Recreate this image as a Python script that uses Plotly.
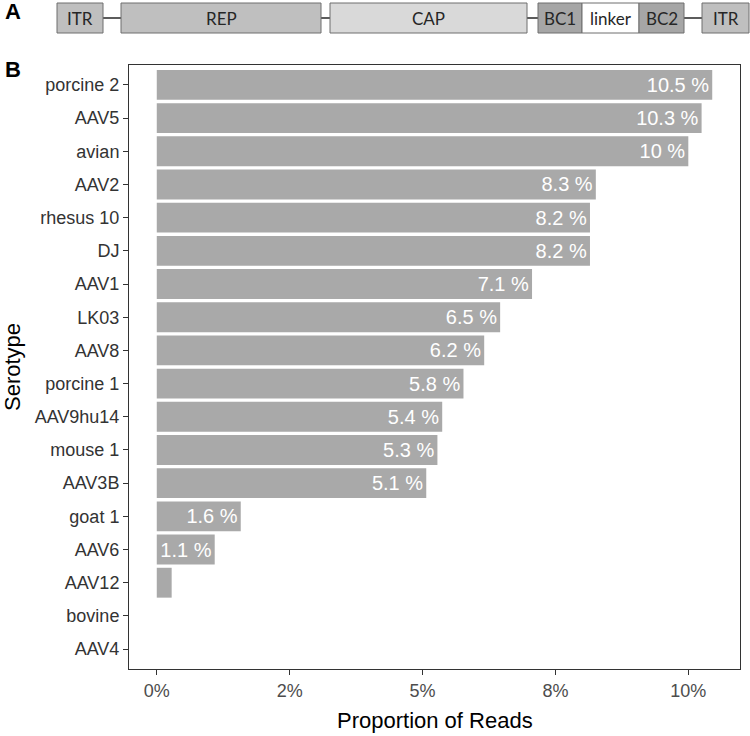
import plotly.graph_objects as go

serotypes = ["porcine 2", "AAV5", "avian", "AAV2", "rhesus 10", "DJ", "AAV1", "LK03",
             "AAV8", "porcine 1", "AAV9hu14", "mouse 1", "AAV3B", "goat 1", "AAV6",
             "AAV12", "bovine", "AAV4"]
proportions = [10.45, 10.25, 10.0, 8.26, 8.15, 8.15, 7.06, 6.46, 6.16, 5.77, 5.37,
               5.28, 5.07, 1.58, 1.09, 0.28, 0.0, 0.0]
bar_labels = ["10.5 %", "10.3 %", "10 %", "8.3 %", "8.2 %", "8.2 %", "7.1 %", "6.5 %",
              "6.2 %", "5.8 %", "5.4 %", "5.3 %", "5.1 %", "1.6 %", "1.1 %", "", "", ""]
tick_vals = [0, 2.5, 5, 7.5, 10]
tick_text = ["0%", "2%", "5%", "8%", "10%"]

# construct diagram (panel A)
segments = ["ITR", "REP", "CAP", "BC1", "linker", "BC2", "ITR"]
seg_x0 = [57, 121, 330, 538, 582, 639, 702]
seg_x1 = [103, 321, 527, 582, 639, 684, 749]
seg_fill = ["#BFBFBF", "#BFBFBF", "#D9D9D9", "#A6A6A6", "#FFFFFF", "#A6A6A6", "#BFBFBF"]

W, H = 750, 736
L, R, T, B = 129, 10, 65, 67
pw, ph = W - L - R, H - T - B

def px(x):
    return (x - L) / pw

def py(y):
    return (H - B - y) / ph

SANS = "Liberation Sans, Arial, sans-serif"
DIAG = "Lato, Open Sans, sans-serif"

fig = go.Figure()
fig.add_trace(go.Bar(
    x=proportions, y=serotypes, orientation="h",
    marker=dict(color="#A9A9A9", line=dict(width=0)),
    width=0.9,
    text=bar_labels,
    textposition="inside", insidetextanchor="end",
    textangle=0, constraintext="none",
    textfont=dict(color="white", size=20, family=SANS),
    hoverinfo="skip",
))

shapes = []
shapes.append(dict(type="line", xref="paper", yref="paper",
                   x0=px(103), x1=px(702), y0=py(18), y1=py(18),
                   line=dict(color="#262626", width=1.5), layer="below"))
annotations = []
for name, a, b, c in zip(segments, seg_x0, seg_x1, seg_fill):
    shapes.append(dict(type="rect", xref="paper", yref="paper",
                       x0=px(a), x1=px(b), y0=py(33), y1=py(3),
                       fillcolor=c, line=dict(color="#6E6E6E", width=1), layer="above"))
    annotations.append(dict(xref="paper", yref="paper", x=px((a + b) / 2), y=py(18.5),
                            text=name, showarrow=False,
                            font=dict(size=17, color="#262626", family=DIAG),
                            xanchor="center", yanchor="middle"))

annotations.append(dict(xref="paper", yref="paper", x=px(3), y=py(11), text="<b>A</b>",
                        showarrow=False, xanchor="left", yanchor="middle",
                        font=dict(size=22, color="black", family=SANS)))
annotations.append(dict(xref="paper", yref="paper", x=px(3), y=py(70), text="<b>B</b>",
                        showarrow=False, xanchor="left", yanchor="middle",
                        font=dict(size=22, color="black", family=SANS)))
# axis titles
annotations.append(dict(xref="paper", yref="paper", x=0.5, y=py(720), text="Proportion of Reads",
                        showarrow=False, xanchor="center", yanchor="middle",
                        font=dict(size=22, color="black", family=SANS)))
annotations.append(dict(xref="paper", yref="paper", x=px(12), y=0.5, text="Serotype",
                        showarrow=False, xanchor="center", yanchor="middle", textangle=-90,
                        font=dict(size=22, color="black", family=SANS)))

fig.update_layout(
    width=W, height=H,
    margin=dict(l=L, r=R, t=T, b=B),
    plot_bgcolor="white", paper_bgcolor="white",
    showlegend=False,
    shapes=shapes, annotations=annotations,
    font=dict(family=SANS, color="#333333"),
    xaxis=dict(
        range=[-0.5225, 10.9725], tickvals=tick_vals, ticktext=tick_text,
        showgrid=False, zeroline=False, automargin=False,
        showline=True, mirror=True, linecolor="#333333", linewidth=1,
        ticks="outside", ticklen=5, tickcolor="#333333", tickwidth=1.2,
        tickfont=dict(size=18, color="#4D4D4D"),
    ),
    yaxis=dict(
        categoryorder="array", categoryarray=serotypes,
        range=[17.6, -0.6],
        showgrid=False, zeroline=False, automargin=False,
        showline=True, mirror=True, linecolor="#333333", linewidth=1,
        ticks="outside", ticklen=5, tickcolor="#333333", tickwidth=1.2,
        tickfont=dict(size=18, color="#333333"),
    ),
)

fig.write_html("out.html", config={"displayModeBar": False},
               post_script="document.body.style.margin='0';")
